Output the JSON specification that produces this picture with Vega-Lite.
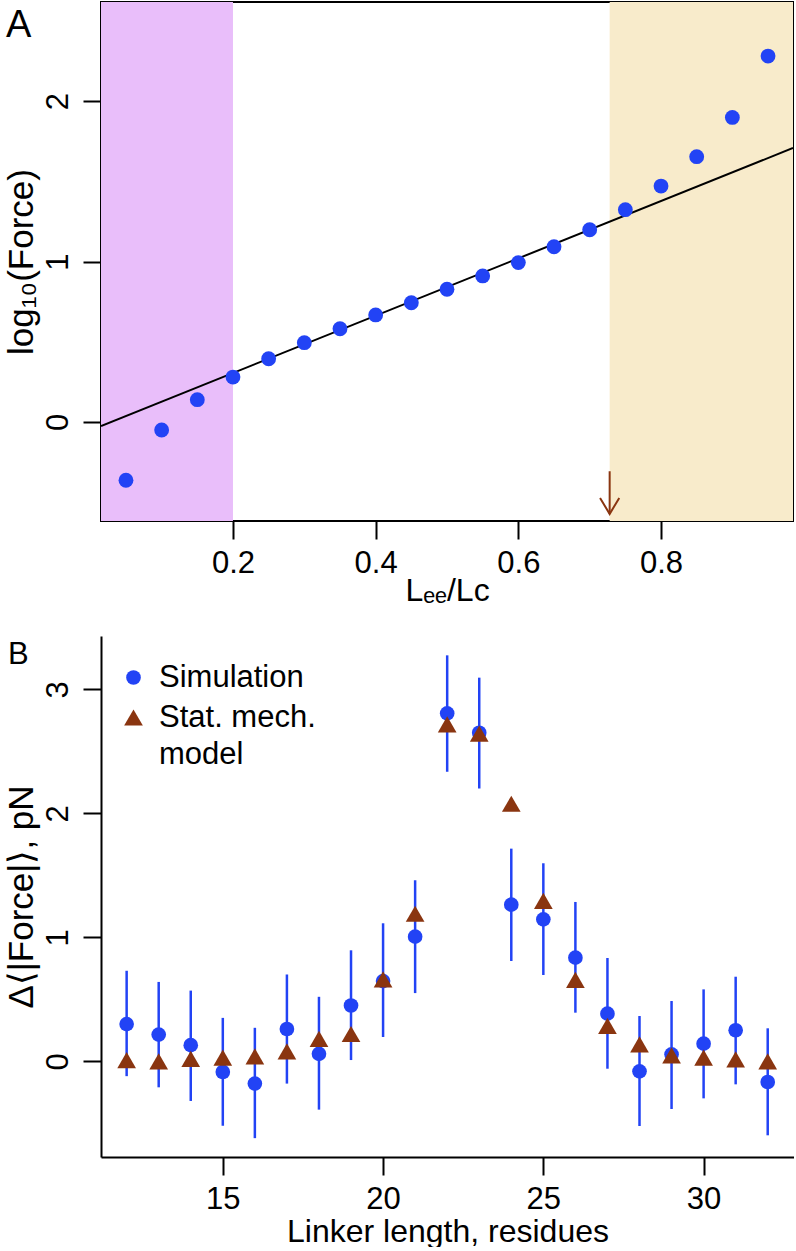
{
  "$schema": "https://vega.github.io/schema/vega-lite/v6.json",
  "padding": {"left": 3, "top": 1, "right": 0, "bottom": 0},
  "background": "white",
  "spacing": 29,
  "config": {
    "font": "Liberation Sans",
    "axis": {
      "labelFont": "Liberation Sans", "labelFontSize": 31, "labelColor": "black",
      "titleFont": "Liberation Sans", "titleFontSize": 32, "titleFontWeight": "normal", "titleColor": "black",
      "tickColor": "black", "tickWidth": 2, "tickSize": 18, "grid": false,
      "domainColor": "black", "domainWidth": 2, "labelPadding": 9
    },
    "legend": {"labelFont": "Liberation Sans"},
    "style": {"guide-label": {"lineHeight": 37}}
  },
  "resolve": {"scale": {"x": "independent", "y": "independent", "color": "independent", "shape": "independent", "size": "independent"}},
  "vconcat": [
    {
      "width": 692, "height": 519,
      "view": {"stroke": "black", "strokeWidth": 2},
      "layer": [
        {
          "data": {"values": [
            {"region": "low", "start": 0, "end": 0.2},
            {"region": "high", "start": 0.728, "end": 1}
          ]},
          "mark": {"type": "rect", "clip": true},
          "encoding": {
            "x": {"field": "start", "type": "quantitative", "scale": {"domain": [0.015, 0.985], "nice": false, "zero": false},
                  "axis": {"title": "Lₑₑ/Lc", "values": [0.2, 0.4, 0.6, 0.8], "format": ".1f", "domain": false, "labelPadding": 9, "titlePadding": -3}},
            "x2": {"field": "end"},
            "color": {"field": "region", "type": "nominal", "scale": {"domain": ["low", "high"], "range": ["#E9BEFA", "#F8EBCB"]}, "legend": null}
          }
        },
        {
          "data": {"values": [
            {"x": 0.015, "y": -0.025},
            {"x": 0.985, "y": 1.707}
          ]},
          "mark": {"type": "line", "color": "black", "strokeWidth": 2, "clip": true},
          "encoding": {
            "x": {"field": "x", "type": "quantitative"},
            "y": {"field": "y", "type": "quantitative", "scale": {"domain": [-0.617, 2.617], "nice": false, "zero": false},
                  "axis": {"title": "log₁₀(Force)", "values": [0, 1, 2], "format": "d", "labelAngle": -90, "domain": false, "titleFontSize": 35, "titlePadding": 3}}
          }
        },
        {
          "data": {"values": [
            {"x": 0.05, "y": -0.363}, {"x": 0.10, "y": -0.05}, {"x": 0.15, "y": 0.139}, {"x": 0.20, "y": 0.28},
            {"x": 0.25, "y": 0.394}, {"x": 0.30, "y": 0.494}, {"x": 0.35, "y": 0.581}, {"x": 0.40, "y": 0.667},
            {"x": 0.45, "y": 0.743}, {"x": 0.50, "y": 0.827}, {"x": 0.55, "y": 0.91}, {"x": 0.60, "y": 0.993},
            {"x": 0.65, "y": 1.092}, {"x": 0.70, "y": 1.198}, {"x": 0.75, "y": 1.323}, {"x": 0.80, "y": 1.47},
            {"x": 0.85, "y": 1.653}, {"x": 0.90, "y": 1.898}, {"x": 0.95, "y": 2.28}
          ]},
          "mark": {"type": "circle", "size": 220, "opacity": 1, "color": "#2243F5"},
          "encoding": {
            "x": {"field": "x", "type": "quantitative"},
            "y": {"field": "y", "type": "quantitative"}
          }
        },
        {
          "data": {"values": [{"x": 0.728, "top": -0.307, "tip": -0.573}]},
          "mark": {"type": "rule", "color": "#8A3510", "strokeWidth": 2},
          "encoding": {
            "x": {"field": "x", "type": "quantitative"},
            "y": {"field": "top", "type": "quantitative"},
            "y2": {"field": "tip"}
          }
        },
        {
          "data": {"values": [{"x": 0.728, "tip": -0.573}]},
          "mark": {"type": "point", "shape": "M -0.6 -1 L 0 0 L 0.6 -1", "filled": false, "size": 1024, "strokeWidth": 2, "color": "#8A3510", "opacity": 1},
          "encoding": {
            "x": {"field": "x", "type": "quantitative"},
            "y": {"field": "tip", "type": "quantitative"}
          }
        },
        {
          "data": {"values": [{"panel": "A"}]},
          "mark": {"type": "text", "fontSize": 38, "align": "left", "baseline": "alphabetic", "font": "Liberation Sans", "color": "black"},
          "encoding": {
            "x": {"datum": -0.118, "type": "quantitative"},
            "y": {"datum": 2.399, "type": "quantitative"},
            "text": {"field": "panel"}
          }
        }
      ]
    },
    {
      "width": 693, "height": 521,
      "view": {"stroke": null},
      "data": {"values": [
        {"n": 12, "series": "Simulation", "value": 0.30, "lo": -0.12, "hi": 0.73},
        {"n": 13, "series": "Simulation", "value": 0.215, "lo": -0.21, "hi": 0.64},
        {"n": 14, "series": "Simulation", "value": 0.13, "lo": -0.32, "hi": 0.57},
        {"n": 15, "series": "Simulation", "value": -0.086, "lo": -0.52, "hi": 0.35},
        {"n": 16, "series": "Simulation", "value": -0.18, "lo": -0.62, "hi": 0.27},
        {"n": 17, "series": "Simulation", "value": 0.26, "lo": -0.18, "hi": 0.70},
        {"n": 18, "series": "Simulation", "value": 0.06, "lo": -0.39, "hi": 0.52},
        {"n": 19, "series": "Simulation", "value": 0.45, "lo": 0.01, "hi": 0.895},
        {"n": 20, "series": "Simulation", "value": 0.647, "lo": 0.196, "hi": 1.113},
        {"n": 21, "series": "Simulation", "value": 1.005, "lo": 0.55, "hi": 1.46},
        {"n": 22, "series": "Simulation", "value": 2.806, "lo": 2.335, "hi": 3.274},
        {"n": 23, "series": "Simulation", "value": 2.65, "lo": 2.2, "hi": 3.094},
        {"n": 24, "series": "Simulation", "value": 1.263, "lo": 0.809, "hi": 1.715},
        {"n": 25, "series": "Simulation", "value": 1.145, "lo": 0.696, "hi": 1.597},
        {"n": 26, "series": "Simulation", "value": 0.836, "lo": 0.392, "hi": 1.285},
        {"n": 27, "series": "Simulation", "value": 0.384, "lo": -0.06, "hi": 0.833},
        {"n": 28, "series": "Simulation", "value": -0.081, "lo": -0.522, "hi": 0.365},
        {"n": 29, "series": "Simulation", "value": 0.056, "lo": -0.385, "hi": 0.486},
        {"n": 30, "series": "Simulation", "value": 0.142, "lo": -0.299, "hi": 0.58},
        {"n": 31, "series": "Simulation", "value": 0.25, "lo": -0.186, "hi": 0.682},
        {"n": 32, "series": "Simulation", "value": -0.167, "lo": -0.597, "hi": 0.266},
        {"n": 12, "series": "Stat. mech. model", "value": 0.01},
        {"n": 13, "series": "Stat. mech. model", "value": 0.0},
        {"n": 14, "series": "Stat. mech. model", "value": 0.02},
        {"n": 15, "series": "Stat. mech. model", "value": 0.03},
        {"n": 16, "series": "Stat. mech. model", "value": 0.04},
        {"n": 17, "series": "Stat. mech. model", "value": 0.08},
        {"n": 18, "series": "Stat. mech. model", "value": 0.18},
        {"n": 19, "series": "Stat. mech. model", "value": 0.22},
        {"n": 20, "series": "Stat. mech. model", "value": 0.66},
        {"n": 21, "series": "Stat. mech. model", "value": 1.19},
        {"n": 22, "series": "Stat. mech. model", "value": 2.718},
        {"n": 23, "series": "Stat. mech. model", "value": 2.642},
        {"n": 24, "series": "Stat. mech. model", "value": 2.077},
        {"n": 25, "series": "Stat. mech. model", "value": 1.293},
        {"n": 26, "series": "Stat. mech. model", "value": 0.656},
        {"n": 27, "series": "Stat. mech. model", "value": 0.285},
        {"n": 28, "series": "Stat. mech. model", "value": 0.137},
        {"n": 29, "series": "Stat. mech. model", "value": 0.048},
        {"n": 30, "series": "Stat. mech. model", "value": 0.03},
        {"n": 31, "series": "Stat. mech. model", "value": 0.016},
        {"n": 32, "series": "Stat. mech. model", "value": 0.0}
      ]},
      "layer": [
        {
          "transform": [{"filter": "datum.series == 'Simulation'"}],
          "mark": {"type": "rule", "color": "#2243F5", "strokeWidth": 2.5},
          "encoding": {
            "x": {"field": "n", "type": "quantitative", "scale": {"domain": [11.2, 32.82], "nice": false, "zero": false},
                  "axis": {"title": "Linker length, residues", "values": [15, 20, 25, 30], "format": "d", "titlePadding": 2}},
            "y": {"field": "lo", "type": "quantitative", "scale": {"domain": [-0.772, 3.43], "nice": false, "zero": false},
                  "axis": {"title": "Δ⟨|Force|⟩, pN", "values": [0, 1, 2, 3], "format": "d", "labelAngle": -90, "titleFontSize": 35, "titlePadding": 3}},
            "y2": {"field": "hi"}
          }
        },
        {
          "mark": {"type": "point", "filled": true, "opacity": 1},
          "encoding": {
            "x": {"field": "n", "type": "quantitative"},
            "y": {"field": "value", "type": "quantitative"},
            "color": {"field": "series", "type": "nominal", "scale": {"domain": ["Simulation", "Stat. mech. model"], "range": ["#2243F5", "#8A3510"]},
                      "legend": {"title": null, "orient": "none", "legendX": 17, "legendY": 26, "padding": 0, "labelFontSize": 31, "labelColor": "black", "labelOffset": 10, "rowPadding": 8, "symbolOpacity": 1,
                                 "labelExpr": "datum.label == 'Stat. mech. model' ? ['Stat. mech.', 'model'] : datum.label"}},
            "shape": {"field": "series", "type": "nominal", "scale": {"domain": ["Simulation", "Stat. mech. model"], "range": ["circle", "triangle-up"]}},
            "size": {"field": "series", "type": "nominal", "scale": {"domain": ["Simulation", "Stat. mech. model"], "range": [215, 350]}}
          }
        },
        {
          "data": {"values": [{"panel": "B"}]},
          "mark": {"type": "text", "fontSize": 31, "align": "left", "baseline": "alphabetic", "font": "Liberation Sans", "color": "black"},
          "encoding": {
            "x": {"datum": 8.3, "type": "quantitative"},
            "y": {"datum": 3.204, "type": "quantitative"},
            "text": {"field": "panel"}
          }
        }
      ]
    }
  ]
}
